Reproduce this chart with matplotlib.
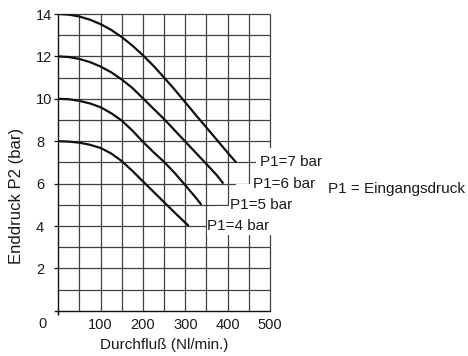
import matplotlib
matplotlib.use("Agg")
import matplotlib.pyplot as plt
from matplotlib.patches import Polygon
import numpy as np

plt.rcParams["font.family"] = ["Liberation Sans", "DejaVu Sans"]

# Pump characteristic curves: outlet pressure P2 vs. flow for several inlet pressures P1
flow_p1_7 = [0, 25, 50, 75, 100, 125, 150, 175, 200, 225, 250, 275, 300, 325, 350, 375, 400, 420]
p2_p1_7 = [14.0, 13.97, 13.88, 13.73, 13.52, 13.25, 12.91, 12.51, 12.05, 11.55, 11.0, 10.43,
           9.83, 9.23, 8.64, 8.05, 7.46, 7.0]

flow_p1_6 = [0, 25, 50, 75, 100, 125, 150, 175, 200, 225, 250, 275, 300, 325, 350, 375, 390]
p2_p1_6 = [12.0, 11.97, 11.88, 11.73, 11.52, 11.25, 10.91, 10.51, 10.02, 9.53, 9.04, 8.51,
           7.98, 7.45, 6.92, 6.38, 6.0]

flow_p1_5 = [0, 25, 50, 75, 100, 125, 150, 175, 200, 225, 250, 275, 300, 325, 338]
p2_p1_5 = [10.0, 9.98, 9.9, 9.78, 9.6, 9.32, 8.97, 8.5, 7.97, 7.48, 7.02, 6.5, 5.92, 5.33, 5.0]

flow_p1_4 = [0, 25, 50, 75, 100, 125, 150, 175, 200, 225, 250, 275, 300, 308]
p2_p1_4 = [8.0, 7.98, 7.93, 7.83, 7.68, 7.42, 7.06, 6.6, 6.1, 5.61, 5.12, 4.63, 4.15, 4.0]

curve_labels = ["P1=7 bar", "P1=6 bar", "P1=5 bar", "P1=4 bar"]
label_x = [476, 459, 405, 352]
label_y = [7, 6, 5, 4]

x_tick_values = [100, 200, 300, 400, 500]
x_tick_labels = ["100", "200", "300", "400", "500"]
y_tick_values = [2, 4, 6, 8, 10, 12, 14]
y_tick_labels = ["2", "4", "6", "8", "10", "12", "14"]

W, H = 468, 356
fig = plt.figure(figsize=(W / 100, H / 100), dpi=100)
ax = fig.add_axes([58.3 / W, (H - 310.8) / H, (270 - 58.3) / W, (310.8 - 14) / H])
ax.set_xlim(0, 500)
ax.set_ylim(0, 14)

# grid: every 50 Nl/min and every 1 bar
grid_color = "#404040"
ax.vlines(np.arange(50, 501, 50), 0, 14, colors=grid_color, lw=0.9, zorder=1, clip_on=False)
ax.hlines(np.arange(1, 15), 0, 500, colors=grid_color, lw=0.9, zorder=1, clip_on=False)

# blank stair-shaped area behind the curve labels
blank = Polygon([(510, 7.7), (466, 7.7), (466, 6.05), (452, 6.05), (452, 5.96),
                 (420, 5.96), (420, 5.05), (402, 5.05), (402, 4.95), (370, 4.95),
                 (370, 4.05), (352, 4.05), (352, 3.57), (510, 3.57)],
                closed=True, facecolor="white", edgecolor="none", zorder=2, clip_on=False)
ax.add_patch(blank)

curve_color = "#111111"
for fx, py in [(flow_p1_7, p2_p1_7), (flow_p1_6, p2_p1_6),
               (flow_p1_5, p2_p1_5), (flow_p1_4, p2_p1_4)]:
    ax.plot(fx, py, color=curve_color, lw=1.6, solid_capstyle="butt",
            solid_joinstyle="round", zorder=3)

for txt, lx, ly in zip(curve_labels, label_x, label_y):
    ax.text(lx, ly, txt, ha="left", va="center", fontsize=11, color="#1a1a1a",
            zorder=4, clip_on=False)

# axes frame
for side in ("top", "right"):
    ax.spines[side].set_visible(False)
for side in ("left", "bottom"):
    ax.spines[side].set_color("#111111")
    ax.spines[side].set_linewidth(1.0)
ax.spines["bottom"].set_bounds(-7, 500)
ax.spines["left"].set_bounds(-0.15, 14)

ax.set_xticks(x_tick_values)
ax.set_xticklabels(x_tick_labels, fontsize=10.5, color="#1a1a1a")
ax.tick_params(axis="x", which="major", length=0, pad=5)
ax.set_xticks([0], minor=True)
ax.tick_params(axis="x", which="minor", length=3, width=0.9, direction="out", color="#111111")

ax.set_yticks(y_tick_values)
ax.set_yticklabels(y_tick_labels, fontsize=10.5, color="#1a1a1a", ha="left")
ax.tick_params(axis="y", length=3, width=0.9, pad=13, color="#111111")

ax.annotate("0", xy=(0, 0), xytext=(-11.4, -9.4), textcoords="offset points",
            ha="center", va="center", fontsize=10.5, color="#1a1a1a")

fig.text(16.7 / W, 1 - 195.5 / H, "Enddruck P2 (bar)", rotation=90,
         ha="center", va="center", fontsize=12, color="#1a1a1a")
fig.text(164.5 / W, 1 - 345.5 / H, "Durchfluß (Nl/min.)", ha="center", va="center",
         fontsize=11, color="#1a1a1a")
fig.text(328 / W, 1 - 189 / H, "P1 = Eingangsdruck", ha="left", va="center",
         fontsize=11, color="#1a1a1a")

fig.savefig("out.png", dpi=100)
